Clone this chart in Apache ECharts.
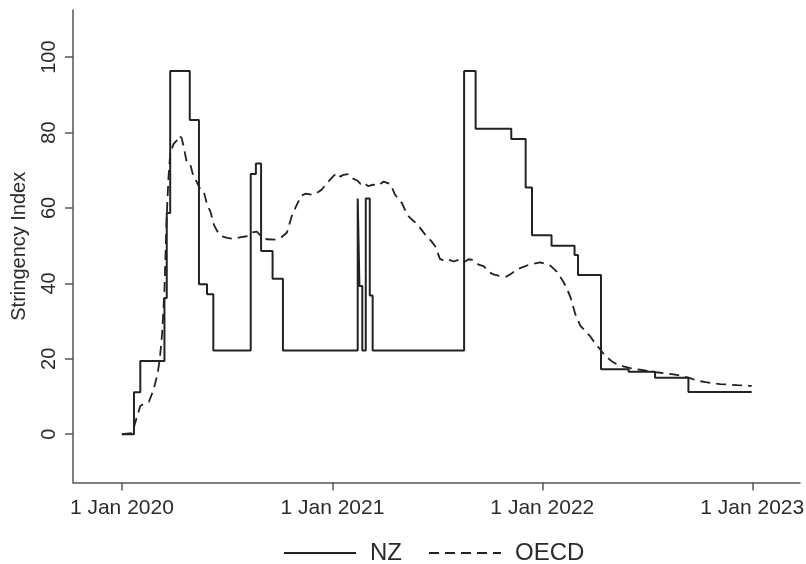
<!DOCTYPE html>
<html>
<head>
<meta charset="utf-8">
<script src="https://cdn.jsdelivr.net/npm/echarts@6/dist/echarts.min.js"></script>
<style>
html,body{margin:0;padding:0;background:#fff;}
#chart{width:806px;height:564px;}
</style>
</head>
<body>
<div id="chart"></div>
<script>
// ---- data ----
const nzDates = ['2020-01-01','2020-01-22','2020-02-02','2020-03-15','2020-03-19','2020-03-25','2020-04-28','2020-05-14','2020-05-28','2020-06-08','2020-08-12','2020-08-21','2020-08-30','2020-09-19','2020-10-07','2021-02-14','2021-02-17','2021-02-22','2021-02-28','2021-03-07','2021-03-12','2021-08-18','2021-09-07','2021-11-08','2021-12-03','2021-12-14','2022-01-17','2022-02-26','2022-03-04','2022-04-13','2022-05-31','2022-07-16','2022-09-12','2022-12-31'];
const nzValues = [0,11.1,19.4,36.1,58.7,96.3,83.3,39.8,37.1,22.2,69.0,71.8,48.6,41.2,22.2,62.5,39.3,22.2,62.5,36.8,22.2,96.3,81.0,78.3,65.4,52.8,50.0,47.5,42.2,17.2,16.6,15.0,11.2,11.2];

const oecdDates = ['2020-01-01','2020-01-19','2020-01-25','2020-02-02','2020-02-10','2020-02-17','2020-02-25','2020-03-03','2020-03-07','2020-03-11','2020-03-15','2020-03-19','2020-03-22','2020-03-25','2020-03-31','2020-04-06','2020-04-10','2020-04-14','2020-04-17','2020-04-23','2020-04-29','2020-05-05','2020-05-10','2020-05-16','2020-05-22','2020-05-28','2020-06-03','2020-06-09','2020-06-15','2020-06-22','2020-07-02','2020-07-13','2020-07-24','2020-08-05','2020-08-14','2020-08-23','2020-08-30','2020-09-09','2020-09-22','2020-10-05','2020-10-14','2020-10-22','2020-10-31','2020-11-08','2020-11-16','2020-11-26','2020-12-05','2020-12-13','2020-12-25','2021-01-03','2021-01-09','2021-01-15','2021-01-20','2021-01-29','2021-02-06','2021-02-13','2021-02-19','2021-02-24','2021-03-04','2021-03-13','2021-03-22','2021-03-31','2021-04-12','2021-04-20','2021-04-26','2021-05-02','2021-05-11','2021-05-20','2021-05-28','2021-06-06','2021-06-14','2021-06-22','2021-06-29','2021-07-07','2021-07-14','2021-07-22','2021-07-31','2021-08-09','2021-08-17','2021-08-26','2021-09-03','2021-09-12','2021-09-21','2021-09-30','2021-10-08','2021-10-18','2021-10-31','2021-11-09','2021-11-18','2021-11-28','2021-12-08','2021-12-17','2021-12-28','2022-01-06','2022-01-15','2022-01-26','2022-02-01','2022-02-07','2022-02-13','2022-02-19','2022-02-27','2022-03-08','2022-03-17','2022-03-25','2022-04-02','2022-04-09','2022-04-17','2022-04-25','2022-05-03','2022-05-11','2022-05-22','2022-06-03','2022-06-20','2022-07-07','2022-07-25','2022-08-17','2022-09-02','2022-09-15','2022-09-27','2022-10-12','2022-11-06','2022-12-06','2022-12-31'];
const oecdValues = [0,0.3,3.5,7.5,8.3,8.6,11.8,16,20,26.8,38.3,58,68,74.5,77,78,79.2,78.5,76.5,72,71.5,68,67,65,64.5,61,59,55.5,53.8,52.5,52.1,51.8,52.2,52.5,53.5,53.7,52.5,51.7,51.6,52.3,53.5,57.7,60.8,63.3,63.8,63.5,64,64.8,67,68.5,69.3,68.3,68.8,69,67.8,67.3,66.4,66.8,65.8,66.2,66,67,66.3,63.5,62.3,61.3,58.2,56.8,55.8,54,52.4,51.2,49.8,46.5,46,46.3,45.8,46.3,45.6,46.4,46.2,45,44.6,43,42.4,42,41.8,42.7,43.7,44.3,44.9,45.2,45.6,45.2,44.7,43.1,41.8,40.3,38.5,36.3,32,28.8,27.3,26,24.3,23,21.4,20.2,19.2,18.5,18,17.5,17.1,16.7,16.3,15.9,15.4,14.9,14.2,13.8,13.3,13,12.8];

const seriesNames = ['NZ','OECD'];
const yTicks = [0,20,40,60,80,100];
const xTickDates = ['2020-01-01','2021-01-01','2022-01-01','2023-01-01'];
const xTickLabels = ['1 Jan 2020','1 Jan 2021','1 Jan 2022','1 Jan 2023'];
const xRange = ['2019-10-08','2023-03-25'];
const yRange = [-12.8, 112.5];
const yTitle = 'Stringency Index';

// ---- build ----
const t = s => Date.parse(s + 'T00:00:00Z');
const xTickVals = xTickDates.map(t);
const nzData = nzDates.map((d,i)=>[t(d), nzValues[i]]);
const oecdData = oecdDates.map((d,i)=>[t(d), oecdValues[i]]);
const FONT = '"Liberation Sans", Arial, sans-serif';
const TXT = '#2b2b2b';
const AX = '#555';
const LINE = '#222';

const chart = echarts.init(document.getElementById('chart'), null, {renderer:'canvas'});
chart.setOption({
  animation:false,
  backgroundColor:'#fff',
  textStyle:{fontFamily:FONT},
  grid:{left:73, right:6, top:10, bottom:81.5, containLabel:false, outerBoundsMode:'none'},
  legend:{
    data:seriesNames,
    left:283, top:541, padding:0,
    itemWidth:72, itemHeight:14, itemGap:26,
    itemStyle:{opacity:0},
    textStyle:{fontFamily:FONT, fontSize:24, color:TXT, padding:[0,0,0,9]}
  },
  xAxis:{
    type:'value',
    min:t(xRange[0]), max:t(xRange[1]),
    splitLine:{show:false},
    axisLine:{show:true, onZero:false, lineStyle:{color:AX, width:1.5}},
    axisTick:{show:true, length:8, lineStyle:{color:AX, width:1.5}, customValues:xTickVals},
    axisLabel:{
      customValues:xTickVals, margin:15, fontSize:21, color:TXT, fontFamily:FONT,
      formatter:(v)=>{ const i = xTickVals.indexOf(v); return i>=0 ? xTickLabels[i] : ''; }
    }
  },
  yAxis:{
    type:'value',
    min:yRange[0], max:yRange[1],
    name:yTitle, nameLocation:'middle', nameGap:44,
    nameTextStyle:{fontSize:20, color:TXT, fontFamily:FONT},
    splitLine:{show:false},
    axisLine:{show:true, onZero:false, lineStyle:{color:AX, width:1.5}},
    axisTick:{show:true, length:8, lineStyle:{color:AX, width:1.5}, customValues:yTicks},
    axisLabel:{customValues:yTicks, rotate:90, margin:14, fontSize:20, color:TXT, fontFamily:FONT}
  },
  series:[
    {name:seriesNames[0], type:'line', step:'end', data:nzData, symbol:'none', showSymbol:false,
     lineStyle:{color:LINE, width:2, type:'solid'}, itemStyle:{color:LINE}, z:3},
    {name:seriesNames[1], type:'line', data:oecdData, symbol:'none', showSymbol:false,
     lineStyle:{color:LINE, width:1.8, type:[10,6]}, itemStyle:{color:LINE}, z:2}
  ]
});
</script>
</body>
</html>
